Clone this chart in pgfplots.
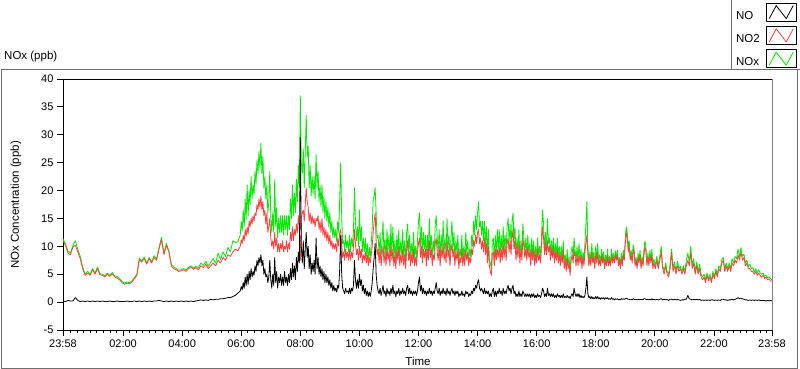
\documentclass[border=0pt]{standalone}
\usepackage{pgfplots}
\pgfplotsset{compat=1.18}
\usepackage{pgfplotstable}
\usepackage{fontspec}
\setmainfont{Liberation Sans}
\definecolor{noxgreen}{RGB}{0,235,0}
\definecolor{notwored}{RGB}{255,64,64}
\definecolor{framegray}{RGB}{110,110,110}

\pgfplotstableread{
t NO NO2 NOx
0 0.2 11.0 11.3
5 0.1 10.2 10.5
10 0.3 8.8 9.2
15 0.2 8.5 8.8
20 0.2 9.8 10.1
25 0.8 10.2 11.0
30 0.3 9.0 9.5
35 0.1 7.8 8.2
40 0.2 6.0 6.3
45 0.1 4.8 5.0
50 0.2 5.2 5.5
55 0.1 4.8 5.0
60 0.2 5.8 6.0
65 0.1 5.0 5.2
70 0.2 6.0 6.3
75 0.1 4.9 5.1
80 0.2 4.8 5.0
85 0.1 4.5 4.7
90 0.1 5.0 5.2
95 0.2 4.6 4.8
100 0.1 5.1 5.3
105 0.1 4.5 4.7
110 0.2 4.3 4.6
115 0.1 4.0 4.2
120 0.1 3.5 3.7
125 0.1 3.2 3.4
130 0.2 3.4 3.6
135 0.1 3.3 3.5
140 0.1 3.6 3.8
145 0.2 4.2 4.4
150 0.1 4.8 5.0
155 0.2 7.6 7.9
160 0.1 7.2 7.4
165 0.2 7.8 8.1
170 0.1 6.8 7.0
175 0.2 7.8 8.0
180 0.1 7.0 7.2
185 0.2 8.0 8.3
190 0.2 7.5 7.8
195 0.3 9.5 9.8
200 0.2 11.2 11.6
205 0.1 8.5 8.8
210 0.2 10.2 10.5
215 0.1 9.0 9.2
220 0.2 6.5 6.8
225 0.1 6.0 6.3
230 0.2 5.8 6.0
235 0.1 5.5 5.7
240 0.2 5.6 5.8
245 0.1 5.8 6.0
250 0.2 5.5 5.8
255 0.1 6.0 6.2
260 0.2 6.3 6.5
265 0.1 5.9 6.1
270 0.2 6.2 6.4
275 0.3 5.8 6.2
280 0.4 6.5 7.0
285 0.3 6.2 6.6
290 0.4 6.8 7.3
295 0.3 6.0 6.4
300 0.5 6.5 7.1
305 0.4 7.0 7.8
310 0.5 6.5 7.0
315 0.5 7.5 8.8
320 0.6 7.0 7.6
325 0.6 8.0 9.0
330 0.7 7.5 8.2
335 0.8 8.5 9.8
340 0.8 8.2 9.0
345 1.0 9.0 11.0
350 1.2 9.5 10.7
355 1.6 9.2 10.8
360 2.0 10.0 12.0
362 2.8 11.2 14.5
364 2.2 10.5 12.7
366 3.5 12.0 16.5
368 2.5 11.0 13.5
370 4.5 13.0 18.5
372 3.0 11.8 14.8
374 5.0 13.5 21.0
376 3.2 12.2 15.4
378 5.5 14.5 20.0
380 4.0 13.5 17.5
382 6.0 15.0 22.5
384 4.5 14.0 18.5
386 5.5 15.5 21.0
388 4.8 14.5 19.3
390 6.5 16.0 23.5
392 5.5 15.5 21.0
394 7.5 17.5 25.5
396 6.5 16.5 23.0
398 8.0 18.5 27.0
400 7.0 17.0 24.0
402 8.5 19.0 28.5
404 6.5 16.5 23.0
406 7.5 18.0 26.0
408 5.0 15.5 20.5
410 6.0 16.5 22.5
412 4.5 14.0 18.5
414 5.0 16.0 21.0
416 3.5 12.5 16.0
418 4.5 13.5 18.0
420 7.5 15.0 23.5
422 4.0 11.5 15.5
424 2.5 10.0 12.5
426 5.0 11.0 16.0
428 3.0 9.5 12.5
430 8.0 12.5 22.0
432 3.5 10.0 13.5
434 5.5 11.5 17.0
436 2.5 9.0 11.5
438 4.5 10.5 15.0
440 3.5 9.0 12.5
442 5.0 10.5 15.5
444 3.0 9.5 12.5
446 4.5 11.0 15.5
448 3.0 9.0 12.0
450 5.5 10.0 15.5
452 3.5 9.5 13.0
454 4.5 11.0 15.5
456 3.0 9.0 12.0
458 5.0 10.5 15.5
460 3.5 9.5 13.0
462 6.0 12.5 18.5
464 4.0 11.0 15.0
466 7.0 13.5 21.0
468 4.5 11.0 15.5
470 6.5 13.0 19.5
472 4.0 12.0 16.0
474 8.0 14.0 22.0
476 5.5 12.5 18.0
478 9.0 15.5 24.5
480 7.0 13.5 20.5
482 29.5 7.5 37.0
484 10.0 15.0 25.0
486 7.0 16.0 23.0
488 11.0 16.5 27.5
490 6.0 14.5 20.5
492 9.5 17.5 27.0
494 12.5 20.5 33.5
496 8.0 18.0 26.0
498 10.0 17.0 28.0
500 6.0 14.5 20.5
502 8.5 16.0 24.5
504 5.0 14.0 19.0
506 7.0 15.5 22.5
508 5.5 14.0 19.5
510 7.5 15.0 22.5
512 5.0 13.5 18.5
514 11.5 15.0 26.5
516 6.0 14.5 20.5
518 8.0 15.5 23.5
520 5.0 13.0 18.0
522 6.5 14.5 21.0
524 4.5 12.5 17.0
526 6.0 15.0 21.0
528 4.0 12.0 16.0
530 5.5 13.5 19.0
532 3.5 11.5 15.0
534 5.0 13.0 18.0
536 3.5 11.0 14.5
538 4.5 12.5 17.0
540 3.0 10.5 13.5
542 4.0 12.0 16.0
544 2.5 10.0 12.5
546 3.5 11.0 14.5
548 2.0 9.5 11.5
550 3.0 10.5 13.5
552 2.0 9.5 11.5
554 2.5 10.5 13.0
556 1.8 9.0 10.8
558 3.0 11.5 14.5
560 2.5 10.0 12.5
562 6.0 12.5 18.5
564 12.0 13.0 25.0
566 5.0 10.5 15.5
568 2.5 8.0 10.5
570 2.0 9.0 11.0
572 1.5 7.5 9.0
574 2.5 9.5 12.0
576 1.8 8.0 9.8
578 2.0 9.0 11.0
580 1.5 7.5 9.0
582 2.5 9.5 12.0
584 1.5 7.5 9.0
586 2.5 9.0 11.5
588 2.0 8.0 10.0
590 3.0 10.0 13.0
592 7.5 13.0 20.5
594 4.0 10.5 14.5
596 2.5 8.5 11.0
598 4.0 9.5 13.5
600 2.5 7.5 10.0
602 5.0 10.0 16.5
604 3.0 8.0 11.0
606 4.0 9.5 13.5
608 2.0 7.0 9.0
610 3.0 8.5 11.5
612 1.5 7.5 9.0
614 2.5 9.0 11.5
616 1.2 7.0 8.2
618 2.0 8.5 10.5
620 1.0 6.5 7.5
622 1.8 8.0 9.8
624 1.0 7.0 8.0
626 2.0 8.5 10.5
628 3.5 10.0 13.5
630 6.0 12.5 18.5
632 8.0 14.5 19.0
634 10.5 16.0 20.5
636 5.0 11.0 16.0
638 3.0 8.5 11.5
640 2.0 9.5 12.0
642 1.5 7.0 8.5
644 2.5 9.5 12.5
646 1.2 6.5 7.7
648 2.0 8.5 11.0
650 3.0 10.0 14.5
652 1.5 7.0 8.5
654 2.0 9.0 11.5
656 1.0 6.5 7.5
658 2.5 10.0 13.0
660 1.5 7.5 9.0
662 2.0 9.0 12.0
664 1.2 6.5 7.7
666 2.5 10.5 14.0
668 1.5 7.5 9.0
670 3.0 9.5 13.5
672 1.5 6.5 8.0
674 2.0 8.5 11.0
676 1.0 6.0 7.0
678 2.0 9.5 12.0
680 1.5 7.5 9.0
682 2.5 10.0 13.0
684 1.2 6.5 7.7
686 2.0 8.5 11.0
688 1.5 7.0 8.5
690 2.5 9.5 13.0
692 1.5 6.5 8.0
694 2.0 8.5 11.0
696 1.2 6.0 7.2
698 2.5 9.5 12.5
700 3.0 11.0 14.0
702 1.5 7.5 9.0
704 2.5 9.0 12.0
706 1.5 6.5 8.0
708 2.0 8.5 10.5
710 1.2 7.0 8.2
712 2.0 9.5 12.5
714 1.5 6.5 8.0
716 2.0 8.0 10.0
718 1.2 6.5 7.7
720 2.0 9.0 11.0
722 3.5 10.5 14.5
724 4.5 11.5 16.0
726 2.0 8.0 10.0
728 3.0 10.0 13.5
730 1.5 7.0 8.5
732 2.5 9.5 12.5
734 1.5 8.0 9.5
736 2.0 9.5 12.0
738 1.2 6.5 7.7
740 2.0 9.5 12.0
742 1.5 7.5 9.0
744 2.5 11.0 15.0
746 1.5 8.0 9.5
748 2.0 9.5 12.0
750 1.2 6.5 7.7
752 2.0 8.5 11.0
754 1.5 7.5 9.0
756 2.5 10.5 14.0
758 3.5 11.5 15.5
760 2.0 9.0 11.5
762 1.5 7.5 9.0
764 2.5 10.0 13.0
766 1.2 6.5 7.7
768 2.0 9.5 12.0
770 1.5 8.0 9.5
772 2.5 10.5 14.5
774 1.5 7.5 9.0
776 2.0 9.0 11.5
778 1.2 7.0 8.2
780 2.5 11.0 15.0
782 1.5 8.0 9.5
784 2.0 9.5 12.0
786 1.2 6.5 7.7
788 2.0 9.0 11.5
790 2.5 10.5 14.5
792 1.5 8.0 9.5
794 2.0 9.5 12.5
796 1.2 6.5 7.7
798 2.0 9.0 11.0
800 1.5 7.5 9.0
802 2.0 9.5 12.0
804 1.0 6.0 7.0
806 1.5 8.0 9.5
808 1.2 7.0 8.2
810 2.0 9.5 12.0
812 1.2 6.5 7.7
814 1.5 8.5 10.0
816 1.0 6.5 7.5
818 2.0 9.5 12.5
820 1.5 7.5 9.0
822 1.8 9.0 11.0
824 1.0 6.5 7.5
826 1.5 8.0 9.5
828 1.2 7.0 8.2
830 2.0 9.5 12.0
832 1.5 8.5 10.0
834 2.5 11.0 14.5
836 2.0 10.0 12.0
838 3.0 12.0 15.5
840 2.5 10.5 13.0
842 3.5 12.5 16.0
844 4.0 13.0 18.0
846 2.5 10.5 13.5
848 2.0 11.5 14.5
850 2.5 9.5 12.0
852 2.0 11.0 14.5
854 1.5 9.0 11.0
856 2.5 11.5 14.5
858 1.5 8.5 10.0
860 2.0 10.5 13.5
862 1.5 7.0 8.5
864 2.0 10.0 13.0
866 1.0 6.5 7.5
868 1.5 5.5 7.0
870 1.0 4.8 6.0
872 2.0 8.5 11.0
874 2.5 9.0 11.5
876 1.0 6.5 7.5
878 2.0 9.5 12.0
880 1.0 7.5 8.5
882 2.0 9.5 13.0
884 1.5 8.0 9.5
886 2.5 10.0 13.0
888 1.5 7.0 8.5
890 2.0 9.5 12.0
892 1.2 7.5 8.7
894 2.5 10.5 13.5
896 1.5 8.0 9.5
898 2.0 10.0 12.0
900 1.5 7.5 9.0
902 2.5 10.5 13.5
904 3.0 11.5 15.0
906 2.0 9.0 11.0
908 2.5 11.0 14.0
910 1.5 8.5 10.0
912 2.5 11.5 14.5
914 3.0 13.0 16.0
916 1.5 9.5 11.0
918 2.0 11.0 13.5
920 1.0 7.5 8.5
922 1.5 10.0 11.5
924 1.0 8.0 9.0
926 2.0 10.5 13.0
928 1.0 7.0 8.0
930 1.5 9.5 11.0
932 1.0 7.5 8.5
934 2.0 11.5 14.0
936 1.5 10.0 11.5
938 1.0 8.0 9.0
940 1.5 9.5 11.5
942 1.0 7.5 8.5
944 1.5 10.0 12.0
946 1.0 8.0 9.0
948 1.5 9.0 10.5
950 0.8 6.5 7.3
952 1.5 9.5 11.5
954 1.0 7.5 8.5
956 1.5 9.5 11.0
958 0.8 6.5 7.3
960 1.2 8.5 10.0
962 0.8 7.0 7.8
964 1.5 9.5 11.5
966 1.0 7.5 8.5
968 1.2 8.5 10.0
970 0.8 7.0 7.8
972 1.5 10.5 12.0
974 2.5 13.5 16.5
976 2.0 11.5 14.0
978 1.0 8.5 9.5
980 1.5 10.5 12.5
982 1.0 8.5 9.5
984 2.5 11.0 15.0
986 1.2 9.0 10.5
988 1.5 10.0 11.5
990 1.0 7.5 8.5
992 1.5 9.5 11.0
994 1.0 8.0 9.0
996 1.5 10.0 11.5
998 0.8 7.0 7.8
1000 1.2 9.0 10.5
1002 0.8 7.5 8.3
1004 1.5 9.5 11.5
1006 1.0 7.0 8.0
1008 1.2 8.5 10.0
1010 0.8 6.5 7.3
1012 1.2 8.5 10.0
1014 0.8 7.0 7.8
1016 1.5 9.5 11.0
1018 0.8 6.0 6.8
1020 1.0 7.5 8.5
1022 0.8 5.5 6.3
1024 1.2 8.0 9.5
1026 0.8 6.0 6.8
1028 1.0 7.0 8.0
1030 0.6 4.8 5.4
1032 1.2 7.5 9.0
1034 1.5 8.5 10.0
1036 1.0 7.0 8.0
1038 2.5 9.5 11.5
1040 1.5 8.0 9.5
1042 1.0 6.5 7.5
1044 1.5 8.5 10.0
1046 1.0 6.5 7.5
1048 1.5 8.5 10.5
1050 0.8 7.0 7.8
1052 1.2 8.5 9.5
1054 0.8 6.0 6.8
1056 1.0 8.0 9.0
1058 0.8 6.5 7.3
1060 1.2 9.0 10.5
1062 2.5 10.5 14.0
1064 4.5 12.0 18.0
1066 1.5 8.5 10.0
1068 0.8 6.5 7.3
1070 1.0 8.0 9.0
1072 0.6 6.5 7.1
1074 1.0 9.0 10.5
1076 0.6 7.0 7.6
1078 0.8 8.0 9.0
1080 0.6 6.0 6.6
1082 1.0 8.5 10.0
1084 0.6 7.0 7.6
1086 1.0 9.0 10.5
1088 0.6 6.5 7.1
1090 0.8 7.5 8.5
1092 0.5 6.5 7.0
1094 0.8 8.5 9.5
1096 0.6 7.0 7.6
1098 0.8 8.0 9.0
1100 0.5 6.0 6.5
1102 0.8 7.5 8.5
1104 0.6 6.5 7.1
1106 0.8 8.5 9.5
1108 0.5 6.5 7.0
1110 0.6 7.5 8.2
1112 0.5 6.5 7.0
1114 0.8 8.5 9.5
1116 0.5 7.0 7.5
1118 0.6 8.0 8.8
1120 0.4 7.0 7.4
1122 0.6 8.5 9.2
1124 0.5 7.5 8.0
1126 0.6 8.5 9.3
1128 0.4 6.5 7.0
1130 0.5 7.5 8.0
1132 0.4 6.0 6.5
1134 0.6 8.0 8.8
1136 0.5 6.5 7.0
1138 0.6 8.5 9.3
1140 0.5 7.5 8.0
1142 0.6 10.5 11.5
1144 0.7 12.5 13.5
1146 0.6 11.5 12.5
1148 0.5 9.0 9.8
1150 0.5 10.0 11.0
1152 0.4 7.5 8.0
1154 0.5 8.5 9.3
1156 0.4 7.0 7.5
1158 0.6 9.5 10.3
1160 0.5 8.5 9.5
1162 0.4 6.5 7.0
1164 0.5 7.5 8.0
1166 0.4 6.0 6.5
1168 0.5 8.0 8.8
1170 0.4 7.0 7.5
1172 0.5 8.5 9.3
1174 0.4 6.0 6.5
1176 0.5 7.5 8.2
1178 0.4 6.5 7.0
1180 0.6 8.5 9.5
1182 0.6 10.0 11.0
1184 0.5 9.0 9.8
1186 0.4 6.5 7.0
1188 0.5 8.0 8.8
1190 0.4 6.5 7.0
1192 0.5 8.5 9.3
1194 0.4 7.0 7.5
1196 0.6 8.5 9.5
1198 0.4 6.0 6.5
1200 0.5 7.0 7.8
1203 0.4 6.0 6.5
1206 0.5 7.5 8.2
1209 0.4 6.0 6.5
1212 0.5 7.5 8.2
1215 0.6 9.0 10.0
1218 0.4 6.0 6.5
1221 0.5 5.0 5.6
1224 0.4 6.5 7.0
1227 0.5 5.0 5.5
1230 0.3 4.5 5.0
1233 0.5 6.0 6.8
1236 0.5 9.0 9.5
1239 0.4 5.5 6.2
1242 0.5 6.5 7.2
1245 0.4 5.0 5.5
1248 0.5 6.5 7.3
1251 0.4 5.5 6.0
1254 0.3 6.0 6.4
1257 0.4 5.0 5.5
1260 0.4 6.0 6.5
1263 0.5 5.0 5.6
1266 0.5 6.5 7.5
1269 1.2 7.5 8.8
1272 0.6 6.5 7.2
1275 0.5 9.0 10.0
1278 0.4 6.0 6.5
1281 0.5 7.0 7.8
1284 0.4 5.0 5.5
1287 0.5 6.5 7.2
1290 0.4 5.0 5.5
1293 0.5 6.0 6.8
1296 0.3 4.5 5.0
1299 0.4 4.0 4.5
1302 0.3 4.5 5.0
1305 0.4 3.5 4.0
1308 0.3 4.8 5.2
1311 0.4 3.8 4.2
1314 0.3 4.5 5.0
1317 0.4 3.5 3.8
1320 0.4 5.0 5.5
1323 0.3 4.2 4.6
1326 0.4 5.5 6.0
1329 0.3 4.5 5.0
1332 0.4 6.0 6.5
1335 0.3 5.5 6.0
1338 0.5 7.0 7.6
1341 0.5 7.5 8.0
1344 0.4 5.5 6.0
1347 0.4 6.5 7.0
1350 0.3 5.5 6.0
1353 0.4 6.5 7.0
1356 0.4 5.5 6.0
1359 0.5 7.0 7.8
1362 0.4 6.5 7.0
1365 0.5 7.5 8.2
1368 0.6 7.0 7.8
1371 0.8 8.5 9.5
1374 0.6 7.5 8.2
1377 0.7 9.0 9.8
1380 0.6 7.5 8.2
1383 0.5 8.0 8.6
1386 0.4 6.5 7.0
1389 0.4 7.0 7.5
1392 0.3 6.0 6.4
1395 0.4 6.0 6.8
1398 0.3 5.5 6.0
1401 0.4 5.5 6.2
1404 0.3 5.0 5.4
1407 0.4 5.5 6.0
1410 0.3 4.8 5.2
1413 0.4 5.2 5.8
1416 0.3 4.8 5.2
1419 0.3 4.5 5.0
1422 0.3 4.8 5.2
1425 0.3 4.2 4.6
1428 0.2 4.5 4.8
1431 0.3 4.0 4.4
1434 0.2 4.2 4.5
1437 0.3 3.8 4.2
1440 0.2 3.8 4.0
}\data

\pgfplotsset{
  boxlegend/.style={legend image code/.code={
    \draw[draw=black, line width=0.8pt, fill=white] (0pt,-5pt) rectangle (30pt,13pt);
    \draw[##1, line width=0.8pt] (3pt,-2.5pt) -- (10pt,10.5pt) -- (20pt,-2.5pt) -- (27pt,10.5pt);
  }}
}

\begin{document}
\begin{tikzpicture}[font=\fontsize{11.5}{13.5}\selectfont]
\useasboundingbox (0,0) rectangle (800pt,369pt);
\fill[white] (0,0) rectangle (800pt,369pt);
\draw[framegray, line width=0.8pt] (1pt,1pt) rectangle (797pt,300pt);
\draw[framegray, line width=0.8pt] (731pt,369pt) -- (731pt,300pt) -- (800pt,300pt);
\node[anchor=west, inner sep=0pt] at (4pt,312pt) {NOx (ppb)};
\begin{axis}[
  at={(63pt,39pt)}, anchor=south west, scale only axis,
  width=709pt, height=251pt,
  xmin=0, xmax=1440, ymin=-5, ymax=40,
  xtick={0,122,242,362,482,602,722,842,962,1082,1202,1322,1440},
  xticklabels={23:58,02:00,04:00,06:00,08:00,10:00,12:00,14:00,16:00,18:00,20:00,22:00,23:58},
  minor xtick={15.333,28.667,...,1435},
  ytick={-5,0,...,40},
  yticklabels={-5,0,5,10,15,20,25,30,35,40},
  tick align=outside, major tick length=6pt, minor tick length=3pt,
  xtick pos=bottom, ytick pos=left,
  axis line style={black, line width=0.8pt},
  tick style={black, line width=0.8pt},
  tick label style={font=\fontsize{11}{13}\selectfont},
  reverse legend,
  legend plot pos=right,
  legend cell align=left,
  legend style={at={(axis description cs:0.9492,1.3048)}, anchor=north west,
    draw=none, fill=none, inner sep=0pt, row sep=4.5pt, column sep=6pt,
    font=\fontsize{11.5}{13.5}\selectfont, nodes={inner sep=0pt}},
  every axis plot/.append style={line width=0.8pt, line join=round},
]
\addplot[noxgreen, boxlegend] table[x=t, y=NOx] {\data};
\addlegendentry{NOx}
\addplot[notwored, boxlegend] table[x=t, y=NO2] {\data};
\addlegendentry{NO2}
\addplot[black, boxlegend] table[x=t, y=NO] {\data};
\addlegendentry{NO}
\end{axis}
\draw[gray, line width=0.8pt] (772pt,39pt) -- (772pt,290pt);
\node[inner sep=0pt] at (418pt,8pt) {Time};
\node[rotate=90, inner sep=0pt] at (16pt,164pt) {NOx Concentration (ppb)};
\end{tikzpicture}
\end{document}
